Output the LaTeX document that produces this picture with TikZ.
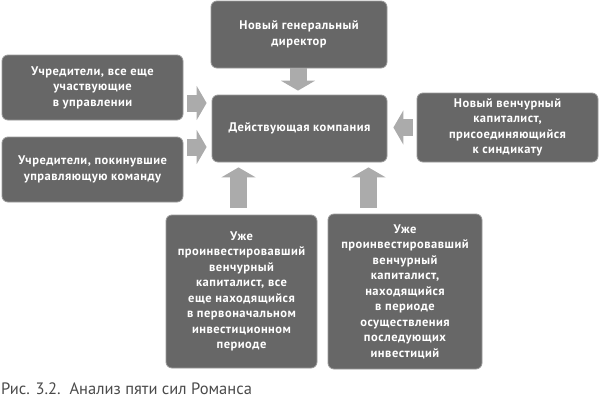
\documentclass[tikz,border=0pt]{standalone}
\usepackage{fontspec}
\setmainfont{PT Sans}
\newfontfamily\boxfont[LetterSpace=4]{PT Sans}
\usetikzlibrary{arrows.meta, positioning, calc}
\definecolor{boxgray}{HTML}{676767}
\definecolor{rimgray}{HTML}{9A9A9A}
\definecolor{arrowgray}{HTML}{ABABAB}
\definecolor{capgray}{HTML}{4A4A4A}

\begin{document}
\begin{tikzpicture}[x=1pt, y=-1pt,
  force/.style={fill=boxgray, draw=rimgray, line width=0.8pt, rounded corners=6pt,
    text=white, font=\boxfont\bfseries\fontsize{12.5}{15.5}\selectfont, align=center,
    inner sep=0pt},
  blockarrow/.style={arrowgray, line width=17pt, -{Triangle[length=10pt, width=34pt]}}]

% Canvas
\useasboundingbox (0,0) rectangle (600,400);

% Boxes
\node[force, minimum width=176pt, minimum height=67pt] (gendir) at (299,34.5)
  {Новый генеральный\\директор};
\node[force, minimum width=175pt, minimum height=67pt] (company) at (299.5,128.5)
  {Действующая компания};
\node[force, minimum width=181pt, minimum height=65pt] (founders) at (92.5,87.5)
  {Учредители, все еще\\участвующие\\в управлении};
\node[force, minimum width=181pt, minimum height=65pt] (leavers) at (92.5,169.5)
  {Учредители, покинувшие\\управляющую команду};
\node[force, minimum width=181pt, minimum height=69pt] (newvc) at (507.5,127.5)
  {Новый венчурный\\капиталист,\\присоединяющийся\\к синдикату};
\node[force, minimum width=151pt, minimum height=153pt] (firstvc) at (241.5,291.5)
  {Уже\\проинвестировавший\\венчурный\\капиталист, все\\еще находящийся\\в первоначальном\\инвестиционном\\периоде};
\node[force, minimum width=154pt, minimum height=155pt] (followvc) at (405,291.5)
  {Уже\\проинвестировавший\\венчурный\\капиталист,\\находящийся\\в периоде\\осуществления\\последующих\\инвестиций};

% Forces
\draw[blockarrow, shorten >=4pt] (gendir.south -| 298,0) -- (company.north -| 298,0);
\draw[blockarrow, shorten <=4pt, shorten >=5pt] (founders.east |- 0,103) -- (company.west |- 0,103);
\draw[blockarrow, shorten <=4pt, shorten >=5pt] (leavers.east |- 0,147) -- (company.west |- 0,147);
\draw[blockarrow, shorten <=4pt, shorten >=6pt] (newvc.west) -- (company.east |- newvc.west);
\draw[blockarrow, shorten <=7pt, shorten >=5pt] (firstvc.north -| 238.5,0) -- (company.south -| 238.5,0);
\draw[blockarrow, shorten <=6pt, shorten >=5pt] (followvc.north -| 368.5,0) -- (company.south -| 368.5,0);

% Caption
\node[text=capgray, font=\fontsize{16.5}{18}\selectfont, anchor=base west, inner sep=0pt] (caption)
  at (1,394) {Рис. 3.2.\ \ Анализ пяти сил Романса};

\end{tikzpicture}
\end{document}
